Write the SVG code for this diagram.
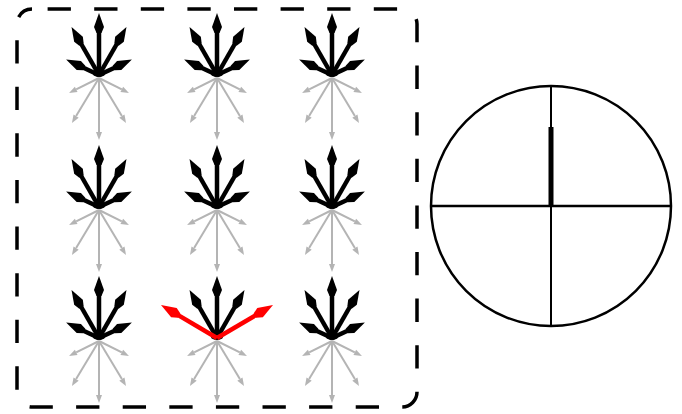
<svg xmlns="http://www.w3.org/2000/svg" xmlns:xlink="http://www.w3.org/1999/xlink" width="682" height="414" viewBox="0 0 682 414">
<style>
.blk{stroke:#000;stroke-width:4.5;fill:none;marker-end:url(#hb)}
.gry{stroke:#b4b4b4;stroke-width:2;fill:none;marker-end:url(#hg)}
.red{stroke:#f00;stroke-width:4.5;fill:none;marker-end:url(#hr)}
.frame{fill:none;stroke:#000;stroke-width:3.5;stroke-dasharray:23.3 23.3;stroke-dashoffset:31}
.dial{fill:none;stroke:#000;stroke-width:2.5}
</style>
<defs>
<marker id="hb" markerUnits="userSpaceOnUse" orient="auto" markerWidth="14" markerHeight="12" refX="0" refY="0" viewBox="0 -6 14 12" overflow="visible"><path d="M-8,-2.5 L-2,-5 L12,0 L-2,5 L-8,2.5 Z" fill="#000"/></marker>
<marker id="hg" markerUnits="userSpaceOnUse" orient="auto" markerWidth="10" markerHeight="8" refX="0" refY="0" viewBox="0 -4 10 8" overflow="visible"><path d="M0,-3 L8,0 L0,3 Z" fill="#b4b4b4"/></marker>
<marker id="hr" markerUnits="userSpaceOnUse" orient="auto" markerWidth="16" markerHeight="12" refX="0" refY="0" viewBox="0 -6 16 12" overflow="visible"><path d="M-8,-2.5 L-2,-5.5 L13,0 L-2,5.5 L-8,2.5 Z" fill="#f00"/></marker>
<g id="down">
<line class="gry" x1="0" y1="3" x2="0" y2="57"/>
<line class="gry" x1="0" y1="3" x2="-22.9" y2="41.1"/>
<line class="gry" x1="0" y1="3" x2="22.9" y2="41.1"/>
<line class="gry" x1="0" y1="3" x2="-22.8" y2="14.4"/>
<line class="gry" x1="0" y1="3" x2="22.8" y2="14.4"/>
</g>
<g id="up">
<line class="blk" x1="0" y1="0" x2="0" y2="-50"/>
<line class="blk" x1="0" y1="0" x2="-21.5" y2="-37.5"/>
<line class="blk" x1="0" y1="0" x2="21.5" y2="-37.5"/>
<ellipse cx="0" cy="-1" rx="6" ry="3" fill="#000"/>
</g>
<g id="far">
<line class="blk" x1="0" y1="0" x2="-22" y2="-10.3"/>
<line class="blk" x1="0" y1="0" x2="22" y2="-10.3"/>
</g>
<g id="star"><use xlink:href="#down"/><use xlink:href="#up"/><use xlink:href="#far"/></g>
</defs>
<rect width="682" height="414" fill="#fff"/>
<path class="frame" d="M32,9 H402 A15,15 0 0 1 417,24 V392 A15,15 0 0 1 402,407 H32 A15,15 0 0 1 17,392 V24 A15,15 0 0 1 32,9 Z"/>
<g id="star-1-1" transform="translate(99,75)"><use xlink:href="#star"/></g>
<g id="star-1-2" transform="translate(217,75)"><use xlink:href="#star"/></g>
<g id="star-1-3" transform="translate(332,75)"><use xlink:href="#star"/></g>
<g id="star-2-1" transform="translate(99,207)"><use xlink:href="#star"/></g>
<g id="star-2-2" transform="translate(217,207)"><use xlink:href="#star"/></g>
<g id="star-2-3" transform="translate(332,207)"><use xlink:href="#star"/></g>
<g id="star-3-1" transform="translate(99,338)"><use xlink:href="#star"/></g>
<g id="star-3-2" transform="translate(217,338)"><use xlink:href="#down"/><use xlink:href="#up"/>
<line class="red" x1="0" y1="0" x2="-44.8" y2="-26.4"/>
<line class="red" x1="0" y1="0" x2="44.8" y2="-26.4"/>
</g>
<g id="star-3-3" transform="translate(332,338)"><use xlink:href="#star"/></g>
<g id="dial">
<circle class="dial" cx="551" cy="206" r="120"/>
<line x1="431" y1="206" x2="671" y2="206" stroke="#000" stroke-width="2.5"/>
<line x1="551" y1="86" x2="551" y2="326" stroke="#000" stroke-width="2"/>
<line x1="551" y1="127" x2="551" y2="207" stroke="#000" stroke-width="5"/>
</g>
</svg>
